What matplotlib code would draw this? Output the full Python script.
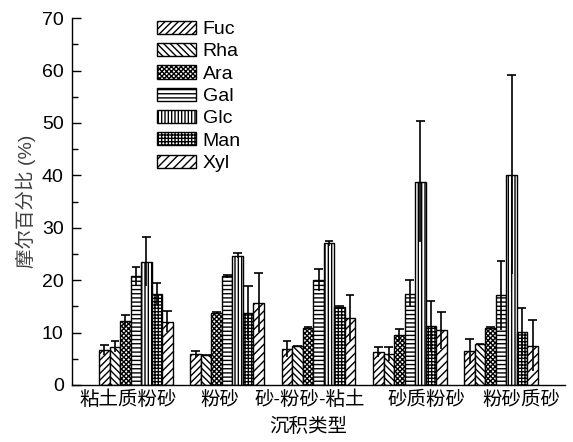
import matplotlib
matplotlib.use("Agg")
import matplotlib.pyplot as plt
import numpy as np

plt.rcParams['font.family'] = ['Liberation Sans', 'Noto Sans CJK SC']
plt.rcParams['hatch.linewidth'] = 1.0

categories = ["粘土质粉砂", "粉砂", "砂-粉砂-粘土", "砂质粉砂", "粉砂质砂"]
sugars = ["Fuc", "Rha", "Ara", "Gal", "Glc", "Man", "Xyl"]

fuc = [6.7, 5.9, 6.9, 6.3, 6.4]
rha = [7.3, 5.7, 7.4, 5.9, 7.8]
ara = [12.2, 13.8, 10.8, 9.5, 10.8]
gal = [20.7, 20.7, 20.0, 17.4, 17.1]
glc = [23.5, 24.7, 27.0, 38.8, 40.1]
man = [17.4, 13.7, 14.9, 11.3, 10.1]
xyl = [12.1, 15.7, 12.8, 10.4, 7.5]

fuc_err = [1.0, 0.5, 1.5, 0.9, 2.4]
rha_err = [1.0, 0.1, 0.1, 1.3, 0.1]
ara_err = [1.2, 0.2, 0.2, 1.2, 0.2]
gal_err = [1.9, 0.2, 2.1, 2.6, 6.6]
glc_err = [4.7, 0.5, 0.4, 11.6, 19.0]
man_err = [2.1, 5.1, 0.2, 4.8, 4.5]
xyl_err = [2.0, 5.6, 4.4, 3.5, 4.9]

values = [fuc, rha, ara, gal, glc, man, xyl]
errors = [fuc_err, rha_err, ara_err, gal_err, glc_err, man_err, xyl_err]
hatches = ["/////", "\\\\\\\\\\", "xxxxxxx", "----", "|||||", "+++++", "////"]

# layout: label offsets (in group units) as placed in the original figure
label_shift = [-0.08, -0.08, -0.10, 0.18, 0.22]

fig = plt.figure(figsize=(5.73, 4.42), dpi=100)
ax = fig.add_axes([0.1257, 0.129, 0.8603, 0.830])

x = np.arange(len(categories))
w = 0.115
for i, (vals, errs, h, name) in enumerate(zip(values, errors, hatches, sugars)):
    pos = x + (i - 3) * w
    ax.bar(pos, vals, width=w, facecolor='white', edgecolor='black',
           hatch=h, linewidth=1.0, label=name, zorder=2)
    vals_a = np.array(vals)
    errs_a = np.array(errs)
    ax.vlines(pos, vals_a - errs_a, vals_a + errs_a, color='black', linewidth=1.2, zorder=3)
    ax.hlines(vals_a + errs_a, pos - w * 0.42, pos + w * 0.42, color='black', linewidth=1.2, zorder=3)

ax.set_xlim(-0.70, 4.70)
ax.set_ylim(0, 70)
ax.set_yticks(np.arange(0, 71, 10))
ax.set_yticks(np.arange(5, 70, 10), minor=True)
ax.tick_params(axis='y', which='major', direction='in', length=6.5, width=1.0, labelsize=14, pad=6)
ax.tick_params(axis='y', which='minor', direction='in', length=4, width=1.0)
ax.set_xticks(x + np.array(label_shift))
ax.set_xticklabels(categories)
ax.tick_params(axis='x', length=0, labelsize=14, pad=4)
for s in ['top', 'right']:
    ax.spines[s].set_visible(False)
ax.spines['left'].set_linewidth(1.0)
ax.spines['bottom'].set_linewidth(1.0)

ax.set_ylabel("摩尔百分比 (%)", fontsize=14, color='#404040', labelpad=4)
ax.set_xlabel("沉积类型", fontsize=14)
ax.xaxis.set_label_coords(0.48, -0.09)

ax.legend(loc='upper left', bbox_to_anchor=(0.157, 1.014), frameon=False, fontsize=14,
          handlelength=2.0, handleheight=0.67, handletextpad=0.34, labelspacing=0.25,
          borderaxespad=0)

fig.savefig("out.png", dpi=100)
